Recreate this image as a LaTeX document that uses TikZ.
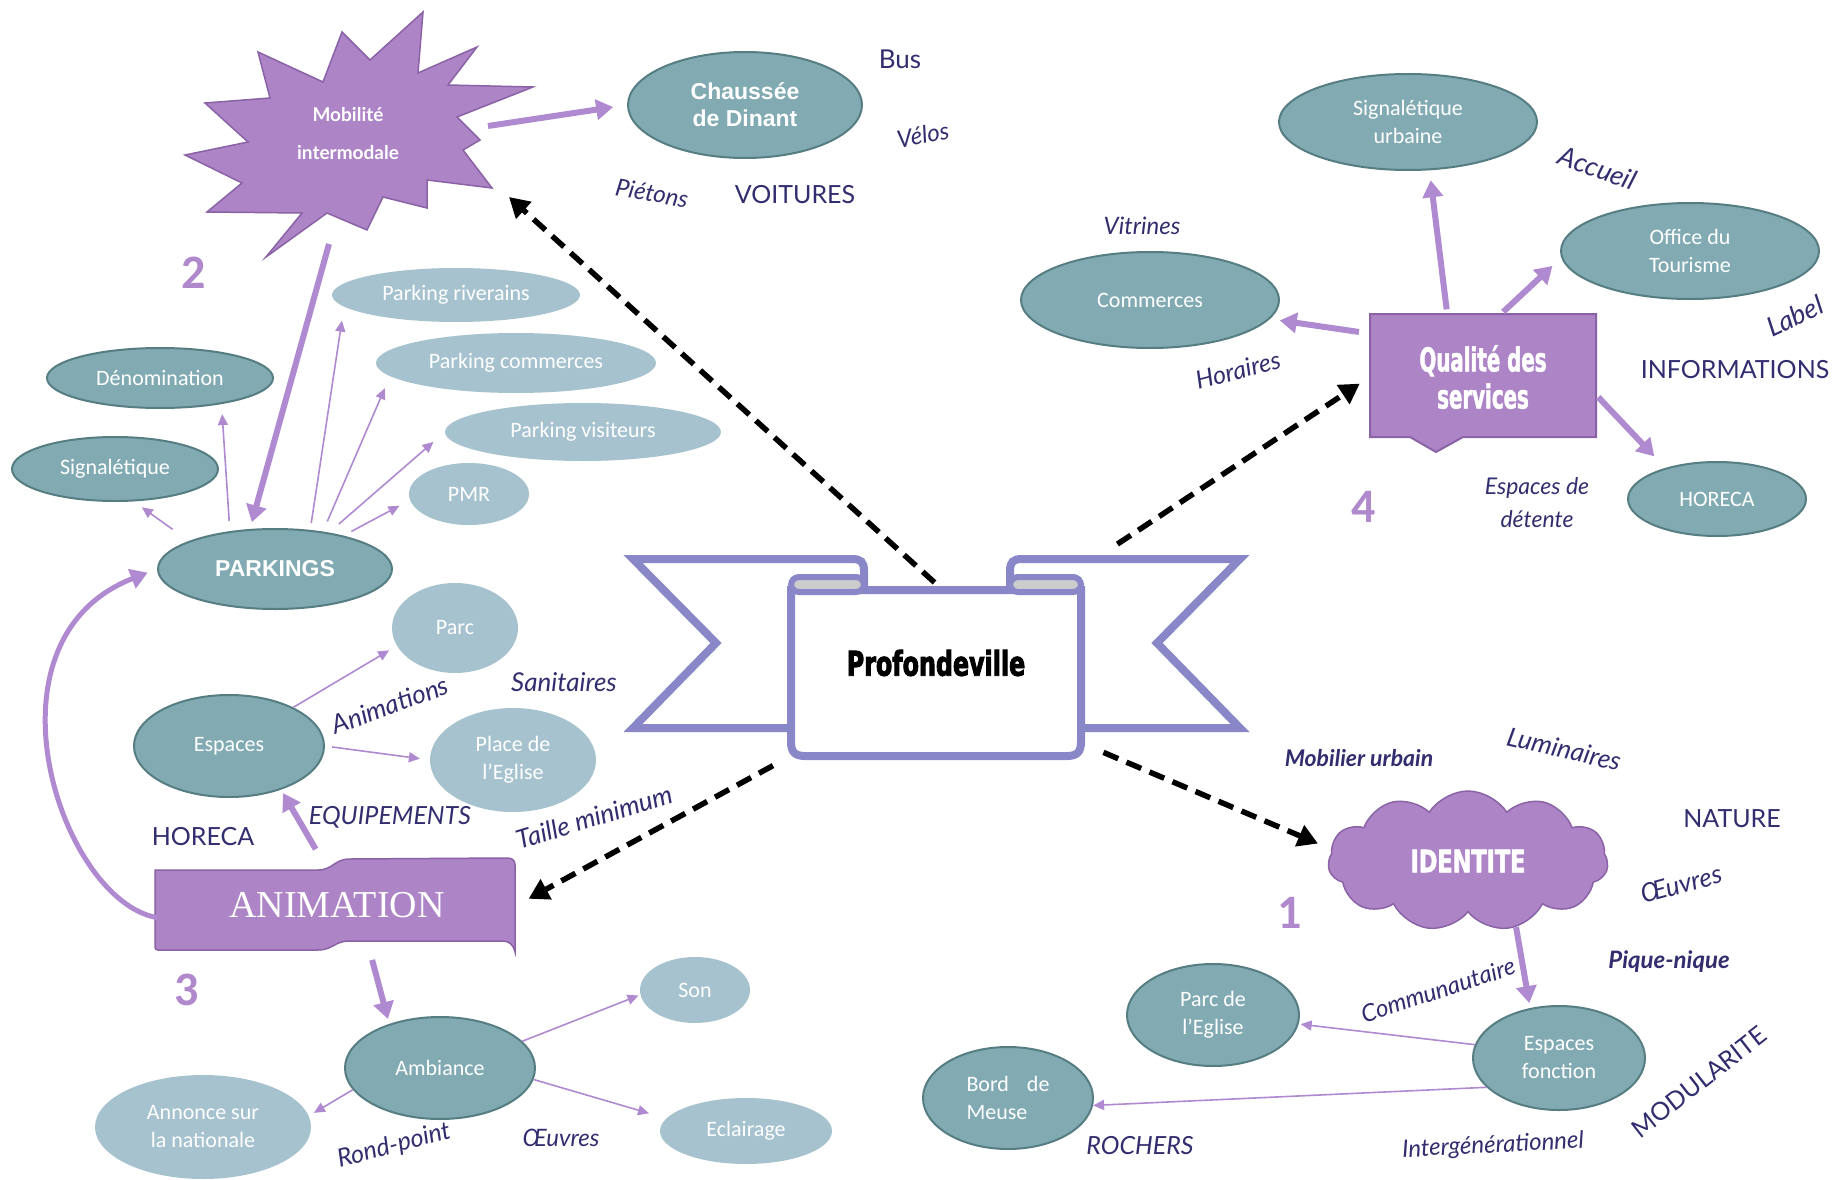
\documentclass[tikz,border=0pt]{standalone}
\usepackage{fontspec}
\setmainfont{Carlito}
\newfontfamily\arialf{Liberation Sans}
\newfontfamily\timesf{Liberation Serif}
\newfontfamily\handf{Lato}
\newfontfamily\qualf{DejaVu Sans}[FakeStretch=0.6,FakeBold=1.5]
\newfontfamily\identf{DejaVu Sans}[FakeStretch=0.72,FakeBold=1.8]
\newfontfamily\proff{DejaVu Sans}[FakeStretch=0.7,FakeBold=2.5]
\usetikzlibrary{arrows.meta,shapes.geometric,shapes.symbols,calc}
\definecolor{tealfill}{HTML}{82AAB2}
\definecolor{tealdraw}{HTML}{557D82}
\definecolor{lightfill}{HTML}{A6C2CE}
\definecolor{purplefill}{HTML}{AD84C6}
\definecolor{purpledraw}{HTML}{8A62A6}
\definecolor{arrowpurple}{HTML}{B08AD0}
\definecolor{navy}{HTML}{322D6E}
\definecolor{peri}{HTML}{8A87C8}
\definecolor{numcolor}{HTML}{B088CC}
\definecolor{capgray}{HTML}{CCCCCC}
\newcommand{\handsz}[1]{\handf\itshape\fontsize{#1}{#1}\selectfont}
\newcommand{\capsz}[1]{\handf\fontsize{#1}{#1}\selectfont}
\begin{document}
\begin{tikzpicture}[x=1pt,y=-1pt,
  tealell/.style={ellipse, fill=tealfill, draw=tealdraw, line width=2pt, text=white,
    font=\fontsize{22}{28}\selectfont, align=center, inner sep=0pt},
  lightell/.style={ellipse, fill=lightfill, draw=none, text=white,
    font=\fontsize{22}{28}\selectfont, align=center, inner sep=0pt},
  hand/.style={text=navy, inner sep=1pt, font=\handsz{24}},
  handcaps/.style={text=navy, inner sep=1pt, font=\capsz{25}},
  thinarrow/.style={draw=arrowpurple, line width=1.6pt, -{Triangle[length=11pt,width=10pt]}},
  thickarrow/.style={draw=arrowpurple, line width=6pt, -{Triangle[length=17pt,width=20pt]}},
  dasharrow/.style={draw=black, line width=5.5pt, dash pattern=on 16pt off 9pt, -{Triangle[length=20pt,width=22pt]}},
  numlabel/.style={text=numcolor, font=\bfseries\fontsize{48}{48}\selectfont, inner sep=0pt},
  purpleshape/.style={fill=purplefill, draw=purpledraw, line width=1.5pt},
  ribbonline/.style={draw=peri, line width=8pt, line join=miter}
]
\useasboundingbox (0,0) rectangle (1834,1180);
\fill[white] (0,0) rectangle (1834,1180);

% ---------- star "Mobilite intermodale"
\draw[purpleshape] (423,12) -- (418,73) -- (477,47) -- (448,85) -- (533,87) -- (457,117) -- (480,140) -- (463,150) -- (492,188) -- (427,180) -- (427,208) -- (383,197) -- (367,230) -- (327,213) -- (266,257) -- (302,213) -- (207,212) -- (242,183) -- (185,155) -- (248,142) -- (205,103) -- (270,98) -- (258,52) -- (323,82) -- (342,32) -- (370,60) -- cycle;
\node[text=white, align=center, font=\handf\bfseries\fontsize{19}{38}\selectfont] (mob) at (348,134) {Mobilité\\intermodale};
\coordinate (starE) at (488,126);
\coordinate (starS) at (329,244);
\coordinate (starSE) at (509,197);

% ---------- Profondeville banner
\draw[ribbonline, fill=white] (800,728) -- (633,728) -- (716,643) -- (633,559) -- (852,559) .. controls (861,559) and (864,562) .. (864,571) -- (864,592);
\draw[ribbonline, fill=white] (1074,728) -- (1240,728) -- (1157,643) -- (1240,559) -- (1022,559) .. controls (1013,559) and (1010,562) .. (1010,571) -- (1010,592);
\draw[ribbonline, fill=white] (791,590) -- (791,742) .. controls (791,752) and (795,756) .. (805,756) -- (1067,756) .. controls (1077,756) and (1081,752) .. (1081,742) -- (1081,590) -- cycle;
\draw[draw=peri, line width=6pt, fill=capgray, rounded corners=8pt] (791,577) rectangle (864,592);
\draw[draw=peri, line width=6pt, fill=capgray, rounded corners=8pt] (1010,577) rectangle (1081,592);
\node[minimum width=294, minimum height=176, inner sep=0pt] (prof) at (936,672) {};
\node[font=\proff\bfseries\fontsize{34}{34}\selectfont] (proftext) at (936,663) {Profondeville};

% ---------- Qualite des services
\draw[purpleshape, line width=2pt] (1370,314) -- (1596,314) -- (1596,437) -- (1463,437) -- (1436,452) -- (1410,437) -- (1370,437) -- cycle;
\node[minimum width=226, minimum height=123, inner sep=0pt, text=white, align=center,
  font=\qualf\bfseries\fontsize{33}{37}\selectfont] (qual) at (1483,377) {Qualité des\\services};

% ---------- IDENTITE cloud
\node[cloud, cloud puffs=11, cloud puff arc=115, aspect=2, minimum width=280, minimum height=140,
  inner sep=0pt, purpleshape, text=white, font=\identf\bfseries\fontsize{31}{31}\selectfont] (cloud) at (1468,861) {IDENTITE};

% ---------- ANIMATION banner
\draw[purpleshape] (155,870) -- (318,870) .. controls (333,870) and (334,859) .. (350,859) -- (507,858) .. controls (512,858) and (515,860) .. (515,865) -- (515,952) .. controls (513,944) and (509,941) .. (502,941) -- (350,941) .. controls (334,941) and (333,950) .. (318,950) -- (158,950) .. controls (156,950) and (155,949) .. (155,947) -- cycle;
\node[minimum width=360, minimum height=94, inner sep=0pt, text=white,
  font=\timesf\fontsize{38}{38}\selectfont] (anim) at (337,905) {ANIMATION};

% ---------- ellipses
\node[tealell, minimum width=234, minimum height=106, font=\arialf\bfseries\fontsize{23}{27}\selectfont] (chau) at (745,105) {Chaussée\\de Dinant};
\node[lightell, minimum width=248, minimum height=54] (riv) at (456,295) {Parking riverains};
\node[lightell, minimum width=280, minimum height=60] (pcom) at (516,363) {Parking commerces};
\node[lightell, minimum width=276, minimum height=58] (pvis) at (583,432) {Parking visiteurs};
\node[lightell, minimum width=120, minimum height=62] (pmr) at (469,494) {PMR};
\node[tealell, minimum width=226, minimum height=60] (denom) at (160,378) {Dénomination};
\node[tealell, minimum width=206, minimum height=64] (sign) at (115,469) {Signalétique};
\node[tealell, minimum width=234, minimum height=80, font=\arialf\bfseries\fontsize{23}{23}\selectfont] (park) at (275,569) {PARKINGS};
\node[lightell, minimum width=126, minimum height=90] (parc) at (455,628) {Parc};
\node[tealell, minimum width=190, minimum height=102] (esp) at (229,746) {Espaces};
\node[lightell, minimum width=166, minimum height=104] (place) at (513,760) {Place de\\l’Eglise};
\node[tealell, minimum width=190, minimum height=102] (amb) at (440,1068) {Ambiance};
\node[lightell, minimum width=110, minimum height=66] (son) at (695,990) {Son};
\node[lightell, minimum width=216, minimum height=104] (ann) at (203,1127) {Annonce sur\\la nationale};
\node[lightell, minimum width=172, minimum height=66] (ecl) at (746,1131) {Eclairage};
\node[tealell, minimum width=258, minimum height=96] (comm) at (1150,300) {Commerces};
\node[tealell, minimum width=258, minimum height=96] (sigu) at (1408,122) {Signalétique\\urbaine};
\node[tealell, minimum width=258, minimum height=96] (office) at (1690,251) {Office du\\Tourisme};
\node[tealell, minimum width=178, minimum height=74] (hor) at (1717,499) {HORECA};
\node[tealell, minimum width=172, minimum height=102] (parc2) at (1213,1015) {Parc de\\l’Eglise};
\node[tealell, minimum width=172, minimum height=104] (espf) at (1559,1058) {Espaces\\fonction};
\node[tealell, minimum width=170, minimum height=102, align=left] (bord) at (1008,1098) {Bord\hspace{18pt}de\\Meuse};

% ---------- numbers
\node[numlabel] (n2) at (194,273) {2};
\node[numlabel] (n4) at (1364,507) {4};
\node[numlabel] (n3) at (187,990) {3};
\node[numlabel] (n1) at (1290,913) {1};

% ---------- handwritten labels
\node[handcaps, font=\capsz{26}] (lbus) at (900,59) {Bus};
\node[hand, rotate=10] (lvelos) at (923,135) {Vélos};
\node[hand, rotate=-10] (lpiet) at (652,193) {Piétons};
\node[handcaps] (lvoit) at (795,195) {VOITURES};
\node[hand] (lvitr) at (1142,226) {Vitrines};
\node[hand, rotate=-20, font=\handsz{27}] (lacc) at (1598,168) {Accueil};
\node[hand, rotate=25, font=\handsz{27}] (llabel) at (1795,316) {Label};
\node[handcaps] (linfo) at (1735,370) {INFORMATIONS};
\node[hand, rotate=15, font=\handsz{25}] (lhor) at (1238,370) {Horaires};
\node[hand, font=\handsz{23}, align=center] (ldet) at (1537,503) {Espaces de\\[10pt]détente};
\node[hand, font=\handsz{26}] (lsan) at (564,682) {Sanitaires};
\node[hand, rotate=20, font=\handsz{26}] (lanim) at (390,705) {Animations};
\node[handcaps, font=\capsz{25}\itshape] (lequip) at (390,817) {EQUIPEMENTS};
\node[handcaps] (lhoreca) at (203,837) {HORECA};
\node[hand, rotate=17, font=\handsz{26}] (ltaille) at (594,817) {Taille minimum};
\node[hand, rotate=15, font=\handsz{25}] (lrond) at (394,1146) {Rond-point};
\node[hand] (loeuv1) at (561,1138) {Œuvres};
\node[hand, font=\handf\bfseries\itshape\fontsize{23}{23}\selectfont] (lmob) at (1359,758) {Mobilier urbain};
\node[hand, rotate=-13, font=\handsz{26}] (llum) at (1564,749) {Luminaires};
\node[handcaps] (lnat) at (1732,819) {NATURE};
\node[hand, rotate=15, font=\handsz{26}] (loeuv2) at (1681,884) {Œuvres};
\node[hand, font=\handf\bfseries\itshape\fontsize{24}{24}\selectfont] (lpique) at (1669,962) {Pique-nique};
\node[hand, rotate=18] (lcomm) at (1438,990) {Communautaire};
\node[handcaps, font=\capsz{25}\itshape] (lroch) at (1140,1146) {ROCHERS};
\node[hand, rotate=3] (linter) at (1493,1146) {Intergénérationnel};
\node[handcaps, rotate=38] (lmodul) at (1699,1082) {MODULARITE};

% ---------- thick purple arrows
\draw[thickarrow, shorten >=14pt] (starE) -- (chau.west);
\draw[thickarrow, shorten >=7pt] (starS) -- (park.122);
\draw[thickarrow, shorten <=10pt, shorten >=4pt] (anim.109) -- (esp.-40);
\draw[thickarrow, shorten <=8pt, shorten >=5pt] (anim.-55) -- (amb.139);
\draw[thickarrow, shorten <=6pt, shorten >=10pt] (qual.120) -- (sigu.-66);
\draw[thickarrow, shorten <=5pt, shorten >=12pt] (qual.75) -- (office.183);
\draw[thickarrow, shorten <=11pt, shorten >=10pt] (qual.159) -- (comm.-9);
\draw[thickarrow, shorten <=3pt, shorten >=16pt] (qual.-9) -- (hor.149);
\draw[thickarrow, shorten >=5pt] (cloud.-54) -- (espf.120);
\draw[thickarrow, line width=5pt, shorten >=10pt] (anim.184) .. controls (60,900) and (-25,640) .. (park.west);

% ---------- thin purple arrows
\draw[thinarrow, shorten <=20pt, shorten >=10pt] (park.162) -- (sign.-60);
\draw[thinarrow, shorten <=10pt, shorten >=10pt] (park.140) -- (denom.-23);
\draw[thinarrow, shorten <=7pt, shorten >=14pt] (park.48) -- (riv.186);
\draw[thinarrow, shorten <=11pt, shorten >=13pt] (park.38) -- (pcom.186);
\draw[thinarrow, shorten <=13pt, shorten >=15pt] (park.34) -- (pvis.west);
\draw[thinarrow, shorten <=9pt, shorten >=12pt] (park.26) -- (pmr.186);
\draw[thinarrow, shorten >=9pt] (esp.31) -- (parc.197);
\draw[thinarrow, shorten <=7pt, shorten >=10pt] (esp.east) -- (place.west);
\draw[thinarrow, shorten >=2pt] (amb.18) -- (son.185);
\draw[thinarrow, shorten >=18pt] (amb.-7) -- (ecl.171);
\draw[thinarrow, shorten >=6pt] (amb.194) -- (ann.6);
\draw[thinarrow, shorten >=2pt] (espf.171) -- (parc2.-6);
\draw[thinarrow] (espf.202) -- (bord.-5);

% ---------- dashed black arrows
\draw[dasharrow, shorten <=2pt] (prof.north) -- (starSE);
\draw[dasharrow, shorten <=72pt, shorten >=12pt] (prof.36.5) -- (qual.west);
\draw[dasharrow, shorten <=22pt, shorten >=14pt] (prof.-26) -- (cloud.175);
\draw[dasharrow, shorten <=18pt, shorten >=13pt] (prof.210.6) -- (anim.east);
\end{tikzpicture}
\end{document}
